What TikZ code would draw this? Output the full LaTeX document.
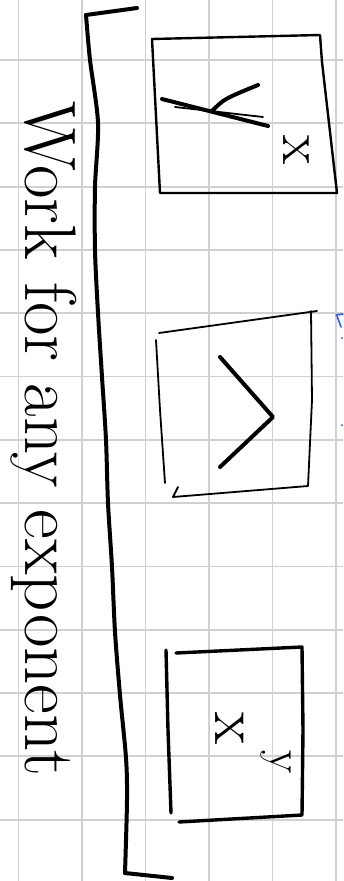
\documentclass[tikz,border=0pt]{standalone}
\usepackage{tikz}
\usetikzlibrary{positioning}

\begin{document}
\begin{tikzpicture}[x=1pt,y=-1pt,
    gridline/.style={draw=black!18,line width=1.8pt},
    ink/.style={draw=black,line width=2.4pt,line cap=round,line join=round},
    thickink/.style={ink,line width=4pt},
    thinink/.style={ink,line width=1.8pt},
    handtext/.style={rotate=-90,inner sep=0pt},
    blueink/.style={draw={rgb,255:red,40;green,90;blue,255},line width=1.6pt,line cap=round}
  ]
    % Paper and grid
    \fill[white] (0,0) rectangle (343,881);
    \useasboundingbox (0,0) rectangle (343,881);
    \foreach \gx in {18.5,82,145.5,209,272.5,336}
      \draw[gridline] (\gx,0) -- (\gx,881);
    \foreach \k in {0,...,12}
      \draw[gridline] (0,60+63.3*\k) -- (343,60+63.3*\k);

    % Label down the left side
    \node[handtext,anchor=base west,font=\fontsize{73}{76}\selectfont] (title) at (25,101) {Work for any exponent};

    % Bracket
    \draw[thickink] (137,8) -- (86,15);
    \draw[thickink] plot[smooth] coordinates {(86,15) (90,60) (98,123) (95,187) (95,250) (98,313) (102,377) (106,440) (108,503) (112,567) (115,632) (120,695) (126,758) (127,800) (125,873)};
    \draw[thickink] (125,873) -- (172,878);

    % Box 1
    \draw[ink] (152,39) -- (320,35) -- (322,62) -- (337,193) -- (160,193) -- cycle;
    \draw[thickink] (162,99) -- (268,126);
    \draw[thinink] (175,107) -- (263,117);
    \draw[thickink] (212,111) .. controls (224,99) .. (258,85);
    \node[handtext,font=\fontsize{60}{60}\selectfont] (xroot) at (296,150) {x};

    % Box 2
    \draw[thinink] (159,333) -- (317,311);
    \draw[thinink] (311,311) -- (312,400) -- (308,486) -- (173,497) -- (178,487);
    \draw[thinink] (156,340) -- (160,410) -- (165,483);
    \draw[thickink] (220,357) -- (273,417) -- (220,467);

    % Box 3
    \draw[ink,line width=3.4pt] (166,650) -- (168,730) -- (171,813);
    \draw[ink,line width=3.4pt] (176,653) -- (302,647) -- (303,730) -- (302,815) -- (179,822);
    \node[handtext,font=\fontsize{66}{66}\selectfont] (xbase) at (230,728) {x};
    \node[handtext,font=\fontsize{48}{48}\selectfont] (yexp) at (276,762) {y};

    % Blue marks at the edge
    \draw[blueink] (336,315) -- (343,314);
    \draw[blueink] (337,316) -- (341,327);
    \fill[blue!70!cyan] (342,338) circle (1pt);
    \fill[blue!70!cyan] (342,425) circle (1pt);
\end{tikzpicture}
\end{document}
